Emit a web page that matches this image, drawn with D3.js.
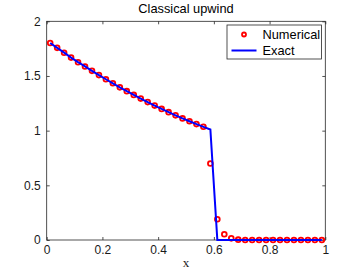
<!DOCTYPE html>
<html lang="en">
<head>
<meta charset="UTF-8">
<title>Classical upwind</title>
<style>
  body { margin: 0; background: #fff; }
  svg { display: block; }
  .tick-label { font: 12px "Liberation Sans", Arial, sans-serif; fill: #1a1a1a; }
  .title { font: 12.8px "Liberation Sans", Arial, sans-serif; fill: #000; }
  .xlabel { font: 13px "Liberation Serif", "Times New Roman", serif; fill: #1a1a1a; }
  .legend text { font: 12.8px "Liberation Sans", Arial, sans-serif; fill: #000; }
</style>
</head>
<body>
<svg width="360" height="271"></svg>
<script src="https://d3js.org/d3.v7.min.js"></script>
<script>
// cell centres
var xs = [0.0125, 0.0375, 0.0625, 0.0875, 0.1125, 0.1375, 0.1625, 0.1875, 0.2125, 0.2375,
          0.2625, 0.2875, 0.3125, 0.3375, 0.3625, 0.3875, 0.4125, 0.4375, 0.4625, 0.4875,
          0.5125, 0.5375, 0.5625, 0.5875, 0.6125, 0.6375, 0.6625, 0.6875, 0.7125, 0.7375,
          0.7625, 0.7875, 0.8125, 0.8375, 0.8625, 0.8875, 0.9125, 0.9375, 0.9625, 0.9875];

var numerical = [1.802, 1.757, 1.713, 1.668, 1.626, 1.587, 1.547, 1.508, 1.470, 1.433,
                 1.396, 1.361, 1.327, 1.293, 1.261, 1.229, 1.199, 1.169, 1.140, 1.112,
                 1.086, 1.060, 1.035, 0.700, 0.190, 0.052, 0.015, 0.003, 0, 0,
                 0, 0, 0, 0, 0, 0, 0, 0, 0, 0];

var exact = [1.802, 1.757, 1.713, 1.668, 1.626, 1.587, 1.547, 1.508, 1.470, 1.433,
             1.396, 1.361, 1.327, 1.293, 1.261, 1.229, 1.199, 1.169, 1.140, 1.112,
             1.086, 1.060, 1.035, 1.011, 0, 0, 0, 0, 0, 0,
             0, 0, 0, 0, 0, 0, 0, 0, 0, 0];

var xTicks = [0, 0.2, 0.4, 0.6, 0.8, 1];
var yTicks = [0, 0.5, 1, 1.5, 2];

var svg = d3.select("svg");
var plotL = 46.7, plotR = 325.3, plotT = 21.3, plotB = 240;

var x = d3.scaleLinear().domain([0, 1]).range([plotL, plotR]);
var y = d3.scaleLinear().domain([0, 2]).range([plotB, plotT]);

var axisColor = "#262626";
var tickLen = 3;

// frame
svg.append("rect")
  .attr("x", plotL).attr("y", plotT)
  .attr("width", plotR - plotL).attr("height", plotB - plotT)
  .attr("fill", "none").attr("stroke", axisColor).attr("stroke-width", 0.8);

// axes with inward ticks, no domain line (the frame draws it)
function styleAxis(g) {
  g.attr("font-size", null).attr("font-family", null);
  g.select(".domain").remove();
  g.selectAll(".tick line").attr("stroke", axisColor).attr("stroke-width", 0.8);
  g.selectAll(".tick text").attr("class", "tick-label").attr("fill", null);
}

svg.append("g").attr("transform", "translate(0," + plotB + ")")
  .call(d3.axisBottom(x).tickValues(xTicks).tickFormat(d3.format("")).tickSizeInner(-tickLen).tickSizeOuter(0).tickPadding(5))
  .call(styleAxis);

svg.append("g").attr("transform", "translate(0," + plotT + ")")
  .call(d3.axisTop(x).tickValues(xTicks).tickFormat("").tickSizeInner(-tickLen).tickSizeOuter(0))
  .call(styleAxis);

svg.append("g").attr("transform", "translate(" + plotL + ",0)")
  .call(d3.axisLeft(y).tickValues(yTicks).tickFormat(d3.format("")).tickSizeInner(-tickLen).tickSizeOuter(0).tickPadding(6))
  .call(styleAxis);

svg.append("g").attr("transform", "translate(" + plotR + ",0)")
  .call(d3.axisRight(y).tickValues(yTicks).tickFormat("").tickSizeInner(-tickLen).tickSizeOuter(0))
  .call(styleAxis);

// numerical markers
svg.append("g").selectAll("circle")
  .data(xs)
  .enter().append("circle")
  .attr("cx", function (d) { return x(d); })
  .attr("cy", function (d, i) { return y(numerical[i]); })
  .attr("r", 2.4)
  .attr("fill", "none")
  .attr("stroke", "#ff0000")
  .attr("stroke-width", 1.8);

// exact solution
var line = d3.line()
  .x(function (d) { return x(d); })
  .y(function (d, i) { return y(exact[i]); });

svg.append("path")
  .datum(xs)
  .attr("d", line)
  .attr("fill", "none")
  .attr("stroke", "#0000ff")
  .attr("stroke-width", 2);

// title and label
svg.append("text").attr("class", "title")
  .attr("x", (plotL + plotR) / 2).attr("y", 13)
  .attr("text-anchor", "middle")
  .text("Classical upwind");

svg.append("text").attr("class", "xlabel")
  .attr("x", (plotL + plotR) / 2).attr("y", 267)
  .attr("text-anchor", "middle")
  .text("x");

// legend
var lg = svg.append("g").attr("class", "legend");
lg.append("rect")
  .attr("x", 227).attr("y", 25).attr("width", 94.5).attr("height", 34)
  .attr("fill", "#fff").attr("stroke", axisColor).attr("stroke-width", 0.8);
lg.append("circle")
  .attr("cx", 244).attr("cy", 34.5).attr("r", 2)
  .attr("fill", "none").attr("stroke", "#ff0000").attr("stroke-width", 1.8);
lg.append("line")
  .attr("x1", 231.5).attr("x2", 256.5).attr("y1", 50.5).attr("y2", 50.5)
  .attr("stroke", "#0000ff").attr("stroke-width", 2);
lg.append("text").attr("x", 262.5).attr("y", 39).text("Numerical");
lg.append("text").attr("x", 262.5).attr("y", 55.3).text("Exact");
</script>
</body>
</html>
